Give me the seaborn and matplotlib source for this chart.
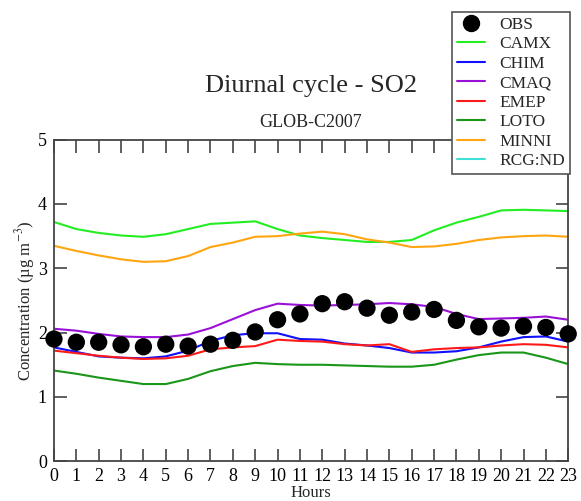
import numpy as np
import pandas as pd
import matplotlib
matplotlib.use("Agg")
import matplotlib.pyplot as plt
from matplotlib.lines import Line2D
import seaborn as sns

# Hourly mean SO2 concentrations (µg m-3), GLOB-C2007
hours = list(range(24))
obs = [1.90, 1.85, 1.85, 1.81, 1.78, 1.82, 1.79, 1.82, 1.88, 2.01, 2.20, 2.29,
       2.45, 2.48, 2.38, 2.27, 2.32, 2.36, 2.19, 2.09, 2.07, 2.10, 2.08, 1.98]
camx = [3.72, 3.61, 3.55, 3.51, 3.49, 3.53, 3.61, 3.69, 3.71, 3.73, 3.61, 3.51,
        3.47, 3.44, 3.41, 3.41, 3.44, 3.59, 3.71, 3.80, 3.90, 3.91, 3.90, 3.89]
chim = [1.77, 1.70, 1.63, 1.61, 1.60, 1.63, 1.72, 1.87, 1.96, 1.99, 1.99, 1.90,
        1.89, 1.83, 1.80, 1.76, 1.69, 1.69, 1.71, 1.77, 1.86, 1.93, 1.94, 1.86]
cmaq = [2.06, 2.03, 1.98, 1.94, 1.93, 1.93, 1.97, 2.07, 2.21, 2.35, 2.45, 2.43,
        2.42, 2.43, 2.44, 2.46, 2.44, 2.40, 2.29, 2.21, 2.22, 2.23, 2.25, 2.20]
emep = [1.72, 1.68, 1.64, 1.61, 1.59, 1.60, 1.64, 1.74, 1.77, 1.79, 1.89, 1.87,
        1.86, 1.82, 1.80, 1.82, 1.70, 1.74, 1.76, 1.77, 1.80, 1.82, 1.81, 1.77]
loto = [1.41, 1.36, 1.30, 1.25, 1.20, 1.20, 1.28, 1.40, 1.48, 1.53, 1.51, 1.50,
        1.50, 1.49, 1.48, 1.47, 1.47, 1.50, 1.58, 1.65, 1.69, 1.69, 1.61, 1.51]
minni = [3.35, 3.27, 3.20, 3.14, 3.10, 3.11, 3.19, 3.33, 3.40, 3.49, 3.50, 3.54,
         3.57, 3.53, 3.45, 3.40, 3.33, 3.34, 3.38, 3.44, 3.48, 3.50, 3.51, 3.49]

models = ["CAMX", "CHIM", "CMAQ", "EMEP", "LOTO", "MINNI", "RCG:ND"]
series = {"CAMX": camx, "CHIM": chim, "CMAQ": cmaq, "EMEP": emep,
          "LOTO": loto, "MINNI": minni}
colors = {"CAMX": "#22ee22", "CHIM": "#1010ff", "CMAQ": "#9a10d8",
          "EMEP": "#ff1a1a", "LOTO": "#1a961a", "MINNI": "#ffa510",
          "RCG:ND": "#40e0d8"}

df = pd.DataFrame([(h, name, v) for name, vals in series.items()
                   for h, v in zip(hours, vals)],
                  columns=["hour", "model", "conc"])
obs_df = pd.DataFrame({"hour": hours, "conc": obs})

sns.set_style("ticks")
plt.rcParams["font.family"] = ["Liberation Serif", "DejaVu Serif"]
plt.rcParams["mathtext.fontset"] = "stix"

fig = plt.figure(figsize=(5.81, 5.01), dpi=100)
ax = fig.add_axes([0.0929, 0.0794, 0.978 - 0.0929, 0.7212 - 0.0794])

sns.lineplot(data=df, x="hour", y="conc", hue="model",
             palette={k: colors[k] for k in series}, linewidth=1.5,
             legend=False, ax=ax)
sns.scatterplot(data=obs_df, x="hour", y="conc", color="black", s=155,
                edgecolor="none", clip_on=False, zorder=5, ax=ax)

ax.set_xlim(0, 23)
ax.set_ylim(0, 5)
ax.set_xticks(hours)
ax.set_yticks(range(6))
ax.tick_params(axis="both", which="major", direction="in", length=9,
               width=1.2, color="#444444", labelsize=13, labelcolor="black",
               top=True, right=True)
ax.tick_params(axis="x", pad=5)
ax.tick_params(axis="y", pad=5)
for sp in ax.spines.values():
    sp.set_visible(True)
    sp.set_color("#444444")
    sp.set_linewidth(1.3)

ax.set_xlabel("Hours", fontsize=12, labelpad=0)
ax.set_ylabel("Concentration (µg m$^{-3}$)", fontsize=12, labelpad=1)

fig.text(0.535, 0.828, "Diurnal cycle - SO2", fontsize=19, ha="center",
         va="center")
fig.text(0.535, 0.755, "GLOB-C2007", fontsize=13, ha="center", va="center")

handles = [Line2D([], [], marker="o", color="black", linestyle="none",
                  markersize=11.5, label="OBS")]
handles += [Line2D([], [], color=colors[m], linewidth=1.5, label=m)
            for m in models]
leg = fig.legend(handles=handles, loc="upper right",
                 bbox_to_anchor=(0.981, 0.977), fontsize=12.5, frameon=True,
                 fancybox=False, framealpha=1, edgecolor="#555555",
                 handlelength=1.6, handletextpad=0.8, labelspacing=0.19,
                 borderpad=0.3, borderaxespad=0)
leg.get_frame().set_linewidth(1.2)
leg.set_zorder(10)

fig.savefig("out.png", dpi=100)
